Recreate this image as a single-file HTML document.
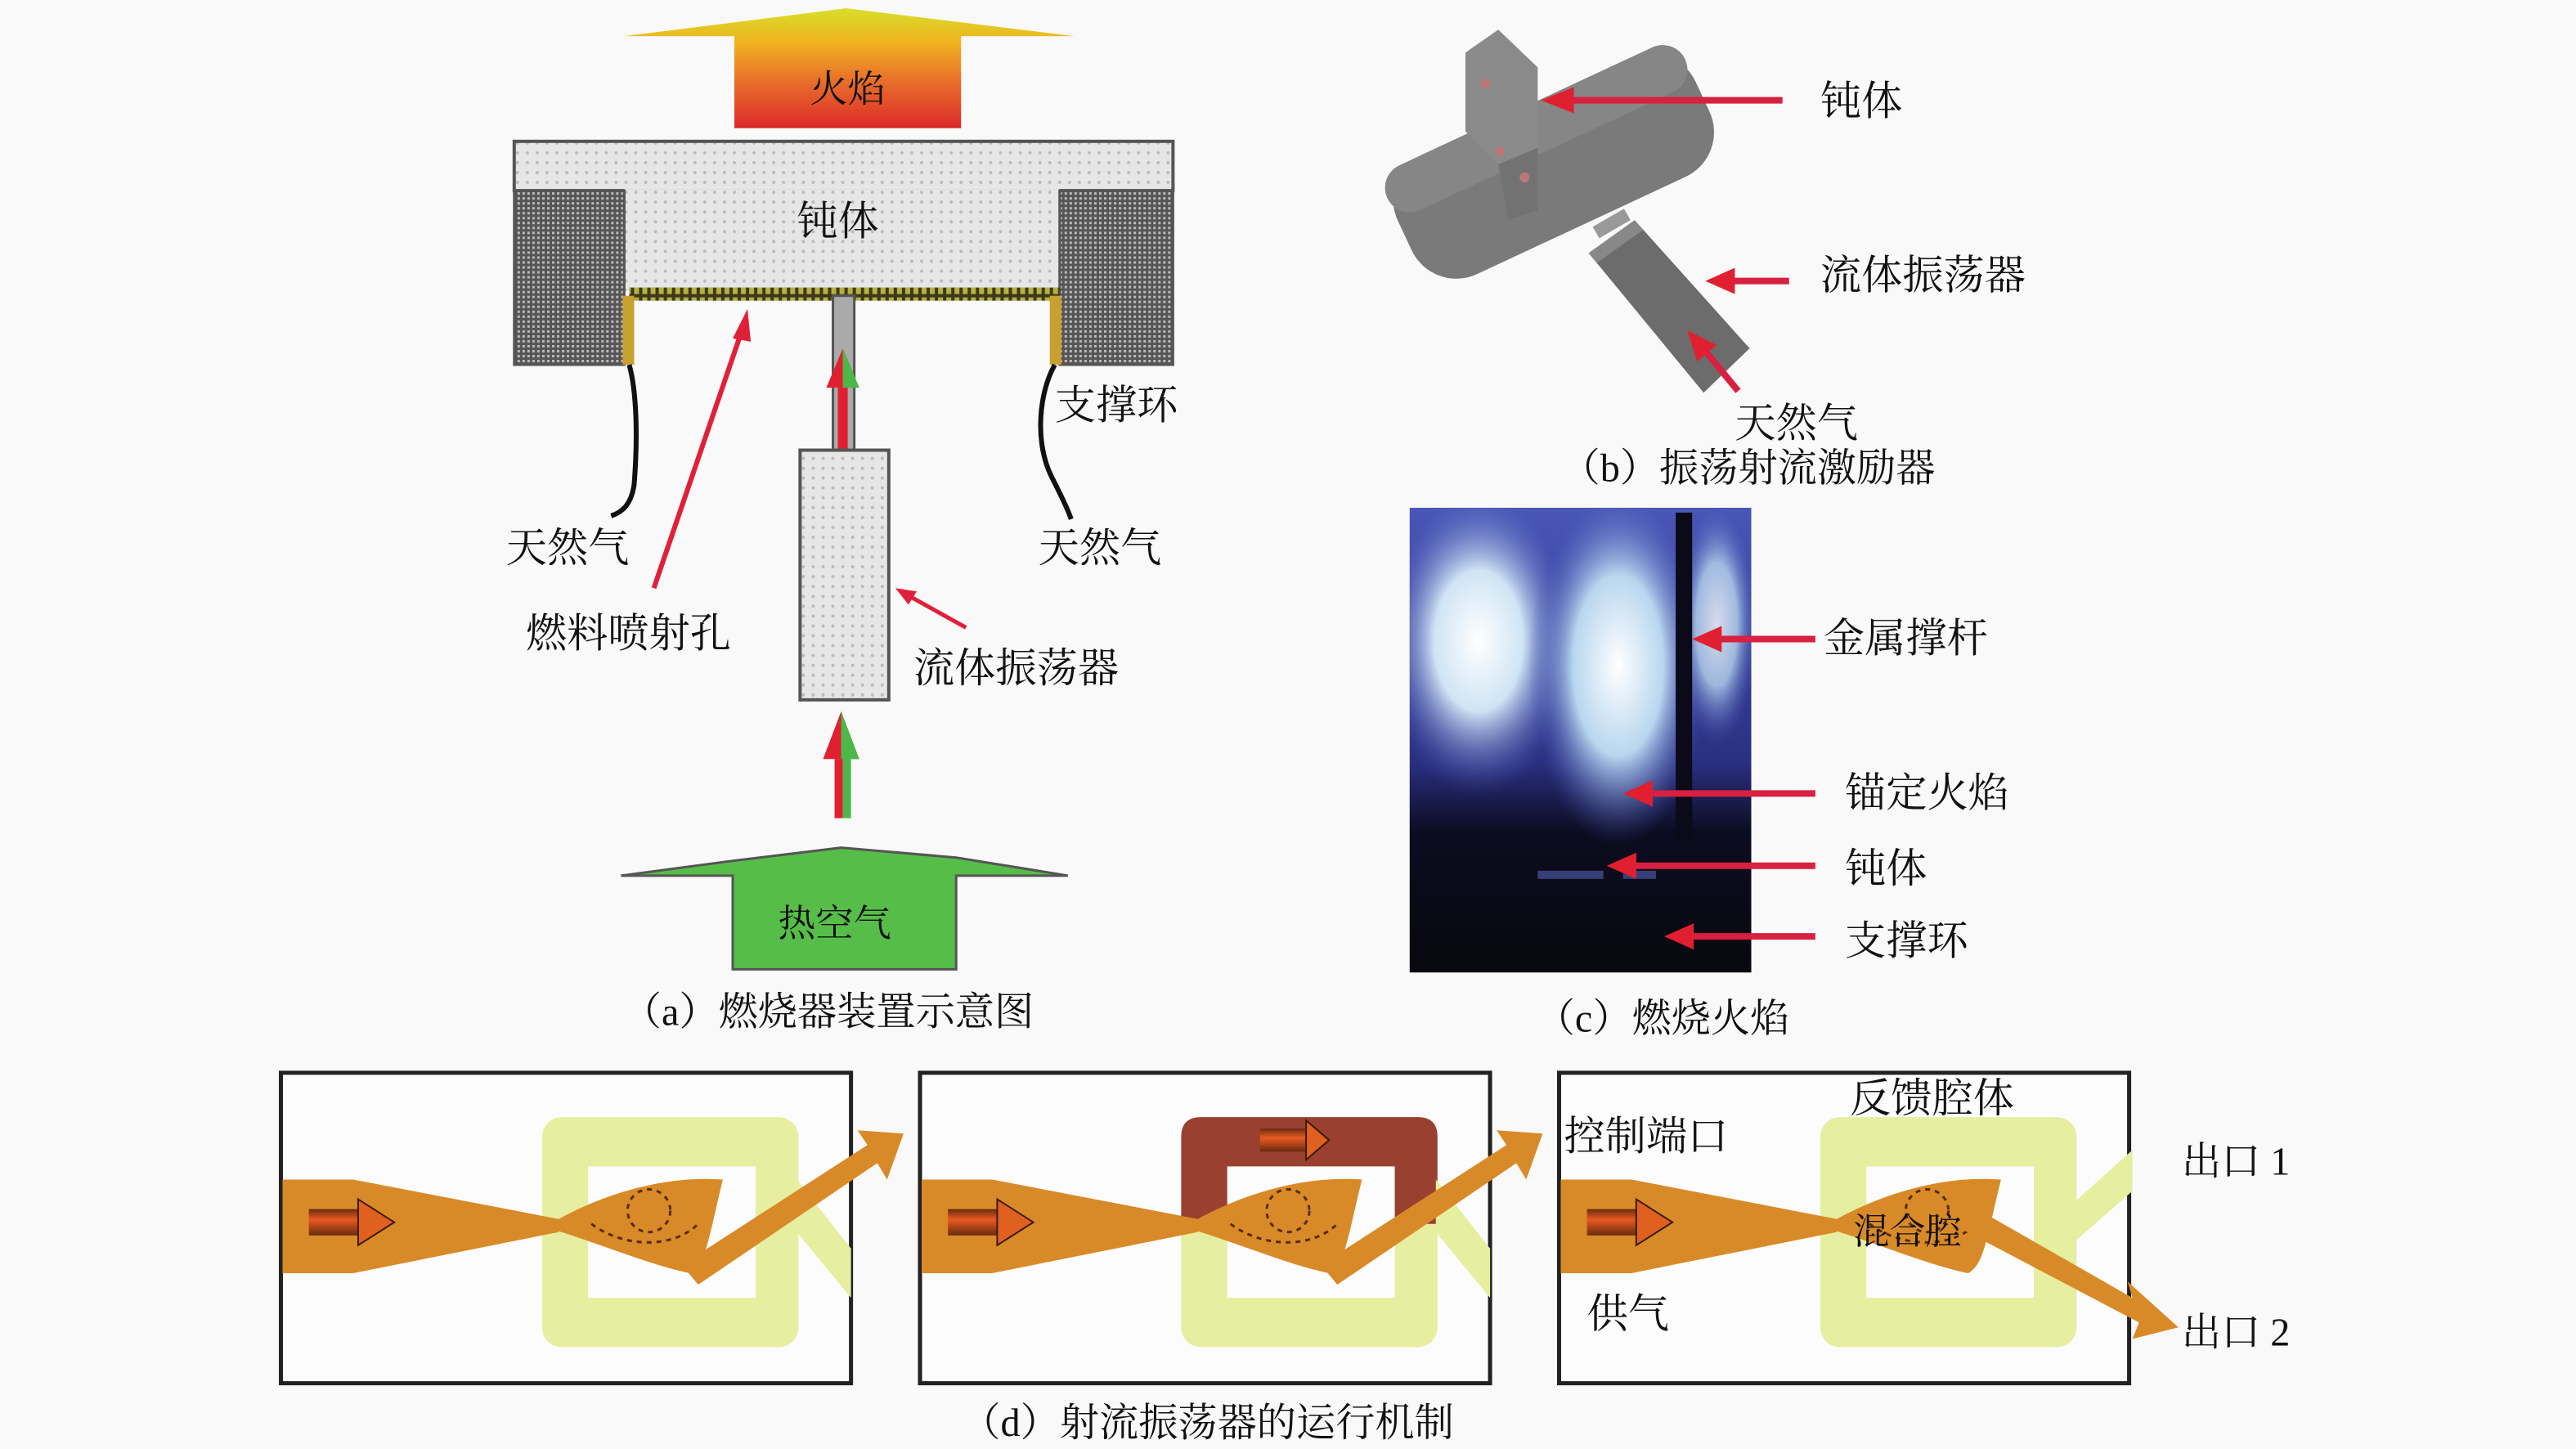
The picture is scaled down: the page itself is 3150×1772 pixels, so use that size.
<!DOCTYPE html>
<html><head><meta charset="utf-8"><style>
html,body{margin:0;padding:0;background:#f9f9f9;}
svg{display:block;}
text{font-family:"Liberation Serif","Noto Serif CJK SC","Noto Sans CJK SC",serif;fill:#111;}
</style></head><body>
<svg width="3150" height="1772" viewBox="0 0 1568 882" xmlns="http://www.w3.org/2000/svg">
<defs>
<clipPath id="photo"><rect x="858" y="309" width="208" height="283"/></clipPath>
<linearGradient id="flame" x1="0" y1="0" x2="0" y2="1">
<stop offset="0" stop-color="#d8df2a"/><stop offset="0.3" stop-color="#f0b020"/><stop offset="0.6" stop-color="#e8702a"/><stop offset="1" stop-color="#dc2a2a"/></linearGradient>
<pattern id="dots" width="6" height="6" patternUnits="userSpaceOnUse"><rect width="6" height="6" fill="#e6e6e6"/><circle cx="3" cy="3" r="1" fill="#bbb"/></pattern>
<pattern id="mesh" width="3" height="3" patternUnits="userSpaceOnUse"><rect width="3" height="3" fill="#555"/><rect width="1.5" height="1.5" fill="#bbb"/></pattern>
<pattern id="strip" width="5" height="6" patternUnits="userSpaceOnUse"><rect width="5" height="6" fill="#3a3a1a"/><rect x="1" y="1" width="3" height="4" fill="#b8b040"/></pattern>
<radialGradient id="g1" cx="0.5" cy="0.5" r="0.5"><stop offset="0" stop-color="#fff"/><stop offset="0.45" stop-color="#cfe4f4"/><stop offset="1" stop-color="#3a4ab0" stop-opacity="0"/></radialGradient>
<radialGradient id="g2" cx="0.5" cy="0.5" r="0.5"><stop offset="0" stop-color="#fff"/><stop offset="0.5" stop-color="#b8d6ee"/><stop offset="1" stop-color="#3a4ab0" stop-opacity="0"/></radialGradient>
<linearGradient id="sky" x1="0" y1="0" x2="0" y2="1"><stop offset="0" stop-color="#4a56b8"/><stop offset="0.55" stop-color="#2a2f80"/><stop offset="0.7" stop-color="#0c0c20"/><stop offset="1" stop-color="#08080e"/></linearGradient>
<linearGradient id="smallarr" x1="0" y1="0" x2="0" y2="1"><stop offset="0" stop-color="#6a2a10"/><stop offset="0.4" stop-color="#e85a20"/><stop offset="1" stop-color="#6a2a10"/></linearGradient>
<g id="ring">
<rect x="330" y="680" width="156" height="140" rx="12" fill="#e6eea0"/>
<rect x="358" y="710" width="102" height="80" fill="#fcfcfc"/>
</g>
<g id="jetin">
<polygon points="172,718 215,718 340,742 340,750 215,775 172,775" fill="#d98a28"/>
<rect x="188" y="736" width="30" height="16" fill="url(#smallarr)"/>
<polygon points="218,730 240,744 218,758" fill="#e06020" stroke="#3a1a00" stroke-width="1"/>
<path d="M335,745 C360,730 400,715 440,718 C432,750 430,770 420,775 C395,770 360,755 335,748 Z" fill="#d98a28"/>
<circle cx="395" cy="737" r="13" fill="none" stroke="#5a2a08" stroke-width="1.5" stroke-dasharray="3,3"/>
<path d="M360,745 C380,760 410,760 425,745" fill="none" stroke="#5a2a08" stroke-width="1.5" stroke-dasharray="3,3"/>
</g>
</defs>
<rect width="1568" height="882" fill="#f9f9f9"/>

<!-- Panel a -->
<polygon points="380,22 515,5 654,22 585,22 585,78 447,78 447,22" fill="url(#flame)"/>
<text x="516" y="62" font-size="23" text-anchor="middle" fill="#8a2a10">火焰</text>
<rect x="313" y="86" width="401" height="30" fill="url(#dots)" stroke="#555" stroke-width="2"/>
<rect x="380" y="115" width="265" height="62" fill="url(#dots)"/>
<rect x="313" y="116" width="67" height="106" fill="url(#mesh)" stroke="#555" stroke-width="1.5"/>
<rect x="645" y="116" width="69" height="106" fill="url(#mesh)" stroke="#555" stroke-width="1.5"/>
<rect x="383" y="175" width="262" height="8" fill="url(#strip)"/>
<rect x="379" y="180" width="7" height="42" fill="#c8a030"/>
<rect x="639" y="180" width="7" height="42" fill="#c8a030"/>
<text x="510" y="143" font-size="25" text-anchor="middle">钝体</text>
<rect x="507" y="180" width="13" height="94" fill="#aaa" stroke="#555" stroke-width="1.5"/>
<polygon points="513,212 503,236 523,236" fill="#e02030"/><polygon points="513,212 513,236 523,236" fill="#4cb848"/>
<rect x="510" y="236" width="6" height="38" fill="#e02030"/>
<rect x="487" y="274" width="54" height="152" fill="url(#dots)" stroke="#555" stroke-width="2"/>
<path d="M383,222 C388,240 388,270 386,295 C384,308 378,312 372,314" fill="none" stroke="#111" stroke-width="3"/>
<path d="M642,222 C632,240 630,270 640,290 C646,302 650,310 652,316" fill="none" stroke="#111" stroke-width="3"/>
<line x1="398" y1="358" x2="452" y2="200" stroke="#e0203a" stroke-width="3"/>
<polygon points="455,188 446,206 457,208" fill="#e0203a"/>
<line x1="588" y1="382" x2="552" y2="362" stroke="#e0203a" stroke-width="2.5"/>
<polygon points="545,358 558,360 553,368" fill="#e0203a"/>
<polygon points="512,433 501,462 523,462" fill="#e02030"/><polygon points="512,433 512,462 523,462" fill="#4cb848"/>
<rect x="508" y="462" width="5" height="36" fill="#e02030"/><rect x="513" y="462" width="5" height="36" fill="#4cb848"/>
<polygon points="378,533 446,524 512,516 582,522 650,533 582,533 582,590 446,590 446,533" fill="#56be48" stroke="#555" stroke-width="1.5"/>
<text x="508" y="570" font-size="23" text-anchor="middle" fill="#1a4a10">热空气</text>
<text x="308" y="342" font-size="25">天然气</text>
<text x="632" y="342" font-size="25">天然气</text>
<text x="642" y="255" font-size="25">支撑环</text>
<text x="320" y="394" font-size="25">燃料喷射孔</text>
<text x="556" y="415" font-size="25">流体振荡器</text>
<text x="504" y="624" font-size="24" text-anchor="middle">（a）燃烧器装置示意图</text>

<!-- Panel b -->
<g transform="rotate(-25 943 100)">
<rect x="845" y="62" width="200" height="80" rx="30" fill="#7a7a7a"/>
<rect x="845" y="62" width="200" height="30" rx="15" fill="#868686"/>
</g>
<polygon points="892,32 912,18 936,41 936,90 912,100 892,80" fill="#8a8a8a"/>
<polygon points="912,100 936,90 936,128 918,134" fill="#727272"/>
<polygon points="967,154 995,134 1065,212 1037,239" fill="#6c6c6c"/>
<polygon points="967,154 995,134 1000,140 972,160" fill="#888"/>
<rect x="970" y="132" width="22" height="8" fill="#999" transform="rotate(-30 981 136)"/>
<circle cx="904" cy="51" r="3" fill="#b77"/><circle cx="913" cy="92" r="3" fill="#b77"/><circle cx="928" cy="108" r="3" fill="#b77"/>
<line x1="1085" y1="61" x2="950" y2="61" stroke="#d82040" stroke-width="4"/>
<polygon points="938,61 958,53 958,69" fill="#e02030"/>
<line x1="1089" y1="171" x2="1050" y2="171" stroke="#d82040" stroke-width="4"/>
<polygon points="1038,171 1056,163 1056,179" fill="#e02030"/>
<line x1="1058" y1="238" x2="1035" y2="210" stroke="#d82040" stroke-width="4"/>
<polygon points="1027,201 1045,210 1033,220" fill="#e02030"/>
<text x="1108" y="70" font-size="25">钝体</text>
<text x="1108" y="176" font-size="25">流体振荡器</text>
<text x="1056" y="266" font-size="25">天然气</text>
<text x="1064" y="293" font-size="24" text-anchor="middle">（b）振荡射流激励器</text>

<!-- Panel c -->
<g clip-path="url(#photo)">
<rect x="858" y="309" width="208" height="283" fill="url(#sky)"/>
<ellipse cx="900" cy="390" rx="60" ry="95" fill="url(#g1)"/>
<ellipse cx="985" cy="405" rx="55" ry="110" fill="url(#g2)"/>
<ellipse cx="1045" cy="380" rx="25" ry="75" fill="url(#g2)" opacity="0.8"/>
<rect x="1020" y="312" width="10" height="200" fill="#0a0a18"/>
<rect x="936" y="530" width="40" height="5" fill="#4a55a0" opacity="0.7"/><rect x="988" y="530" width="20" height="5" fill="#4a55a0" opacity="0.7"/>
</g>
<line x1="1105" y1="389" x2="1042" y2="389" stroke="#d82040" stroke-width="4"/><polygon points="1030,389 1048,381 1048,397" fill="#e02030"/>
<line x1="1105" y1="483" x2="1000" y2="483" stroke="#d82040" stroke-width="4"/><polygon points="988,483 1006,475 1006,491" fill="#e02030"/>
<line x1="1105" y1="527" x2="990" y2="527" stroke="#d82040" stroke-width="4"/><polygon points="978,527 996,519 996,535" fill="#e02030"/>
<line x1="1105" y1="570" x2="1025" y2="570" stroke="#d82040" stroke-width="4"/><polygon points="1013,570 1031,562 1031,578" fill="#e02030"/>
<text x="1110" y="397" font-size="25">金属撑杆</text>
<text x="1123" y="491" font-size="25">锚定火焰</text>
<text x="1123" y="537" font-size="25">钝体</text>
<text x="1123" y="581" font-size="25">支撑环</text>
<text x="1012" y="628" font-size="24" text-anchor="middle">（c）燃烧火焰</text>

<!-- Panel d -->
<g>
<rect x="171" y="653" width="347" height="189" fill="#fcfcfc" stroke="#222" stroke-width="2.5"/>
<use href="#ring"/>
<polygon points="485,718 518,760 518,790 485,750" fill="#e6eea0"/>
<use href="#jetin"/>
<polygon points="415,770 528,697 522,688 550,690 540,718 534,708 425,782" fill="#d98a28"/>
</g>
<g transform="translate(389,0)">
<rect x="171" y="653" width="347" height="189" fill="#fcfcfc" stroke="#222" stroke-width="2.5"/>
<use href="#ring"/>
<path d="M330,745 L330,692 Q330,680 342,680 L474,680 Q486,680 486,692 L486,745 L460,745 L460,710 L358,710 L358,745 Z" fill="#9a4030"/>
<rect x="378" y="687" width="28" height="14" fill="url(#smallarr)"/>
<polygon points="406,682 420,694 406,706" fill="#e06020" stroke="#3a1a00"/>
<polygon points="485,718 518,760 518,790 485,750" fill="#e6eea0"/>
<use href="#jetin"/>
<polygon points="415,770 528,697 522,688 550,690 540,718 534,708 425,782" fill="#d98a28"/>
</g>
<g transform="translate(778,0)">
<rect x="171" y="653" width="347" height="189" fill="#fcfcfc" stroke="#222" stroke-width="2.5"/>
<use href="#ring"/>
<polygon points="470,745 520,700 520,725 480,760" fill="#e6eea0"/>
<use href="#jetin"/>
<polygon points="415,730 520,790 517,780 548,808 520,815 524,805 410,745" fill="#d98a28"/>
</g>
<text x="1126" y="677" font-size="25">反馈腔体</text>
<text x="952" y="700" font-size="25">控制端口</text>
<text x="966" y="808" font-size="25">供气</text>
<text x="1128" y="757" font-size="22" fill="#3a1a08">混合腔</text>
<text x="1328" y="715" font-size="24">出口 1</text>
<text x="1328" y="819" font-size="24">出口 2</text>
<text x="735" y="874" font-size="24" text-anchor="middle">（d）射流振荡器的运行机制</text>
</svg>
</body></html>
